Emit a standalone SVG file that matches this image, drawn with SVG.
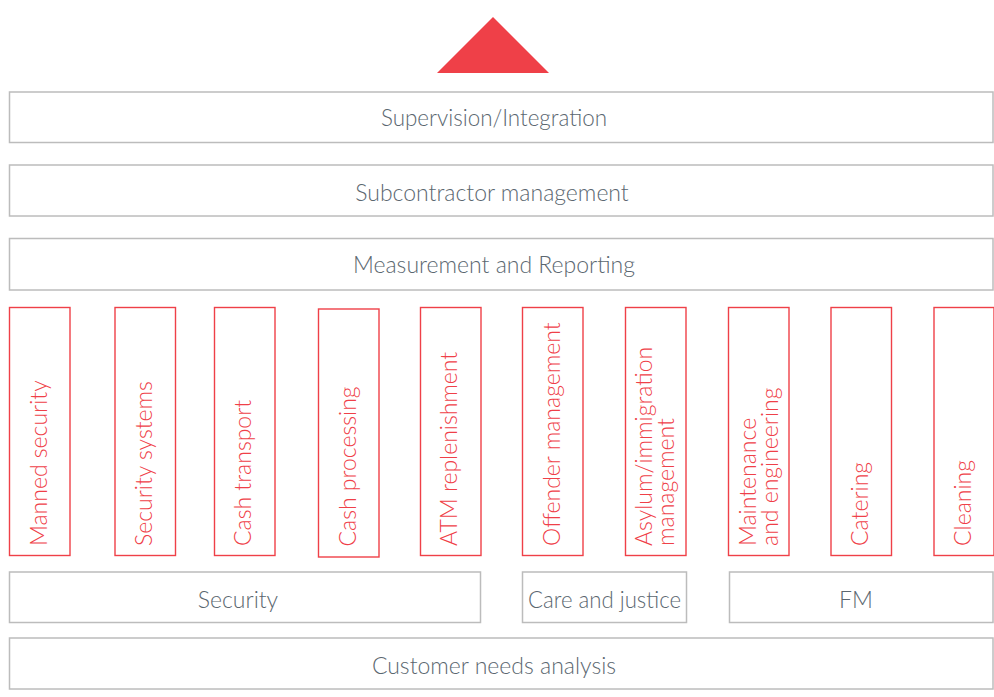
<svg xmlns="http://www.w3.org/2000/svg" width="994" height="697" viewBox="0 0 994 697">
<style>
.g{fill:#ffffff;stroke:#bcbcbc;stroke-width:1.5}
.r{fill:#ffffff;stroke:#ef4048;stroke-width:1.4}
.t{font-family:Lato,"Liberation Sans",sans-serif;font-weight:300;font-size:23px;fill:#5b6770;text-anchor:middle}
.v{font-family:Lato,"Liberation Sans",sans-serif;font-weight:300;font-size:23px;fill:#ef4048}
</style>
<rect width="994" height="697" fill="#ffffff"/>
<g id="apex"><polygon points="437,73 493,17 549,73" fill="#ef4048"/></g>
<g id="supervision"><rect class="g" x="9.5" y="92" width="983.5" height="50.5"/><text class="t" x="494" y="126" textLength="226" lengthAdjust="spacingAndGlyphs">Supervision/Integration</text></g>
<g id="subcontractor"><rect class="g" x="9.5" y="165" width="983.5" height="51"/><text class="t" x="492" y="200.5">Subcontractor management</text></g>
<g id="measurement"><rect class="g" x="9.5" y="238.5" width="983.5" height="51.5"/><text class="t" x="494" y="273">Measurement and Reporting</text></g>
<g id="manned"><rect class="r" x="9.5" y="307.5" width="60.5" height="248"/><text class="v" transform="translate(47,546) rotate(-90)">Manned security</text></g>
<g id="secsys"><rect class="r" x="115" y="307.5" width="60.5" height="248"/><text class="v" transform="translate(152,546) rotate(-90)">Security systems</text></g>
<g id="cashtransport"><rect class="r" x="214.5" y="307.5" width="60.5" height="248"/><text class="v" transform="translate(251,546) rotate(-90)">Cash transport</text></g>
<g id="cashprocessing"><rect class="r" x="318.5" y="309" width="60.5" height="248"/><text class="v" transform="translate(356,546.5) rotate(-90)">Cash processing</text></g>
<g id="atm"><rect class="r" x="420.5" y="307.5" width="60.5" height="248"/><text class="v" transform="translate(457,546) rotate(-90)">ATM replenishment</text></g>
<g id="offender"><rect class="r" x="522.5" y="307.5" width="60.5" height="248"/><text class="v" transform="translate(560,546) rotate(-90)">Offender management</text></g>
<g id="asylum"><rect class="r" x="625.5" y="307.5" width="60.5" height="248"/><text class="v" transform="translate(652,546) rotate(-90)"><tspan x="0" y="0">Asylum/immigration</tspan><tspan x="0" y="22">management</tspan></text></g>
<g id="maintenance"><rect class="r" x="728.5" y="307.5" width="60.5" height="248"/><text class="v" transform="translate(756,546) rotate(-90)"><tspan x="0" y="0">Maintenance</tspan><tspan x="0" y="22">and engineering</tspan></text></g>
<g id="catering"><rect class="r" x="831" y="307.5" width="60.5" height="248"/><text class="v" transform="translate(868,546) rotate(-90)">Catering</text></g>
<g id="cleaning"><rect class="r" x="934" y="307.5" width="60" height="248"/><text class="v" transform="translate(971,546) rotate(-90)">Cleaning</text></g>
<g id="security"><rect class="g" x="9.5" y="572" width="471" height="50.5"/><text class="t" x="238" y="608">Security</text></g>
<g id="care"><rect class="g" x="522.5" y="572" width="164" height="50.5"/><text class="t" x="604.5" y="608" textLength="153" lengthAdjust="spacingAndGlyphs">Care and justice</text></g>
<g id="fm"><rect class="g" x="729.5" y="572" width="263.5" height="50.5"/><text class="t" x="856" y="608">FM</text></g>
<g id="customer"><rect class="g" x="9.5" y="638" width="983.5" height="51"/><text class="t" x="494" y="674">Customer needs analysis</text></g>
<g id="connectors"></g>
</svg>
